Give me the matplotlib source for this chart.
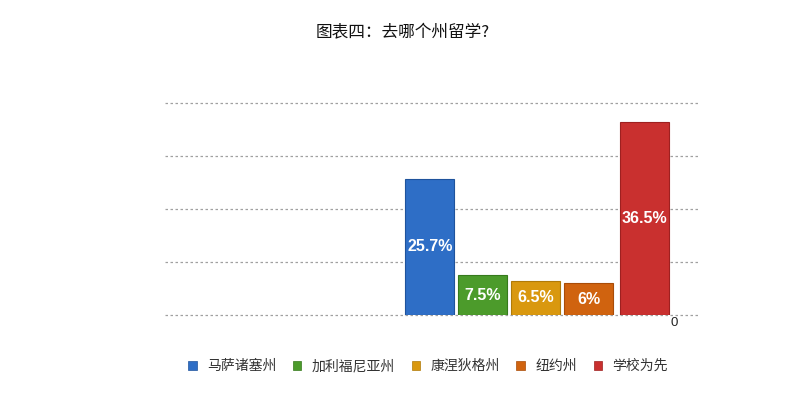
import matplotlib
matplotlib.use("Agg")
import matplotlib.pyplot as plt
from matplotlib.patches import Patch

plt.rcParams['font.family'] = ['Noto Sans CJK SC', 'DejaVu Sans']

categories = ["马萨诸塞州", "加利福尼亚州", "康涅狄格州", "纽约州", "学校为先"]
values = [25.7, 7.5, 6.5, 6.0, 36.5]
labels = ["25.7%", "7.5%", "6.5%", "6%", "36.5%"]
colors = ["#2E6EC6", "#4C9B2B", "#D9980F", "#D0630F", "#C9302F"]
edge_colors = ["#1F539C", "#367A1C", "#B07A08", "#A94C08", "#9E2020"]
title = "图表四：去哪个州留学?"
grid_values = [0, 10, 20, 30, 40]

fig = plt.figure(figsize=(8, 3.98), dpi=100)
ax = fig.add_axes([0.206, 0.2085, 0.669, 0.5325])

xpos = [0, 1, 2, 3, 4.05]
for x, v, c, ec, lab in zip(xpos, values, colors, edge_colors, labels):
    ax.bar(x, v, width=0.92, color=c, edgecolor=ec, linewidth=0.8, zorder=3)
    ax.text(x, v / 2, lab, ha="center", va="center", color="white",
            fontsize=11.5, fontweight="bold", family=["Liberation Sans"], zorder=4)

ax.text(4.55, -0.3, "0", ha="left", va="top", fontsize=9.5, color="#222222",
        family=["Liberation Sans"], zorder=4, clip_on=False)

for g in grid_values:
    ax.axhline(g, color="#a0a0a0", linestyle=(0, (2, 2)), linewidth=0.9, zorder=1,
               clip_on=False)

ax.set_xlim(-5.0, 5.1)
ax.set_ylim(0, 40)
for s in ax.spines.values():
    s.set_visible(False)
ax.set_xticks([])
ax.set_yticks([])

fig.text(0.503, 0.918, title, ha="center", va="center", fontsize=12, color="#111111")

handles = [Patch(facecolor=c, edgecolor=ec, linewidth=0.5) for c, ec in zip(colors, edge_colors)]
fig.legend(handles, categories, loc="center", bbox_to_anchor=(0.535, 0.08), ncol=5,
           frameon=False, fontsize=10, handlelength=0.6, handleheight=0.6,
           handletextpad=0.75, columnspacing=1.2, labelcolor="#333333")

fig.savefig("out.png", dpi=100, facecolor="white")
